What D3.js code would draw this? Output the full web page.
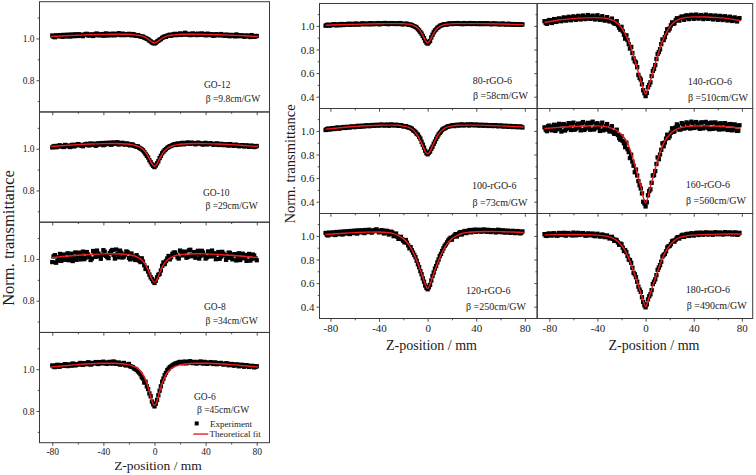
<!DOCTYPE html>
<html><head><meta charset="utf-8">
<script src="https://cdn.jsdelivr.net/npm/d3@7"></script>
<style>
body{margin:0;background:#fff}
svg{display:block}
text{font-family:"Liberation Serif","Times New Roman",serif;fill:#1a1a1a}
</style>
</head><body>
<svg id="c" width="756" height="475"></svg>
<script>
// ---------- sampling grids (Z-position, mm) ----------
const zLeftA = d3.range(-80, 81, 2);     // left column, even positions
const zLeftB = d3.range(-79, 80, 2);     // left column, odd positions
const zRightA = d3.range(-84, 79, 2);    // middle/right columns, even positions
const zRightB = d3.range(-83, 78, 2);    // middle/right columns, odd positions
const fitZLeft = [-81,-70,-60,-50,-40,-32,-26,-22,-18,-15,-12,-10,-8,-6,-4,-2,0,2,4,6,8,10,12,15,18,22,26,32,40,50,60,70,81];
const fitZRight = [-84,-72,-60,-50,-40,-34,-28,-24,-20,-16,-13,-10,-8,-6,-4,-2,0,2,4,6,8,10,13,16,20,24,28,34,40,50,60,70,79];

// ---------- tick values ----------
const xMajorTicks = [-80,-40,0,40,80];
const xMinorTicks = [-60,-20,20,60];
const yMajorLeft = [0.8,1.0];
const yMinorLeft = [0.7,0.9,1.1];
const yMajorRight = [0.4,0.6,0.8,1.0];
const yMinorRight = [0.5,0.7,0.9,1.1];

// ---------- panel names ----------
const sampleNames = ["GO-12","GO-10","GO-8","GO-6","80-rGO-6","100-rGO-6","120-rGO-6","140-rGO-6","160-rGO-6","180-rGO-6"];
const betaLabels = ["β =9.8cm/GW","β =29cm/GW","β =34cm/GW","β =45cm/GW","β =58cm/GW","β =73cm/GW","β =250cm/GW","β =510cm/GW","β =560cm/GW","β =490cm/GW"];

// ---------- experiment (normalized transmittance), even positions ----------
const go12 = [1.014,1.006,1.012,1.016,1.008,1.011,1.018,1.009,1.015,1.020,1.012,1.017,1.011,1.021,1.015,1.019,1.012,1.022,1.016,1.020,1.013,1.024,1.018,1.015,1.023,1.019,1.025,1.016,1.021,1.018,1.022,1.015,1.019,1.013,1.012,1.008,1.004,0.998,0.990,0.981,0.976,0.985,0.994,1.003,1.010,1.013,1.018,1.016,1.022,1.017,1.024,1.019,1.027,1.021,1.016,1.024,1.019,1.023,1.017,1.021,1.015,1.022,1.018,1.013,1.020,1.016,1.021,1.014,1.018,1.012,1.017,1.013,1.019,1.011,1.015,1.009,1.014,1.010,1.016,1.008,1.012];
const go10 = [1.006,1.013,1.009,1.016,1.010,1.018,1.012,1.008,1.019,1.014,1.022,1.016,1.012,1.021,1.017,1.025,1.019,1.014,1.026,1.020,1.017,1.028,1.022,1.019,1.030,1.024,1.020,1.027,1.021,1.025,1.018,1.021,1.014,1.010,1.005,0.997,0.984,0.966,0.945,0.925,0.912,0.930,0.955,0.978,0.993,1.004,1.012,1.017,1.022,1.025,1.020,1.028,1.024,1.030,1.023,1.027,1.021,1.029,1.025,1.020,1.028,1.022,1.026,1.019,1.024,1.018,1.023,1.017,1.021,1.015,1.020,1.014,1.019,1.012,1.017,1.011,1.016,1.009,1.015,1.008,1.013];
const go8 = [0.985,1.018,0.992,1.024,1.003,0.996,1.027,1.008,0.990,1.031,1.012,0.998,1.035,1.006,1.021,0.995,1.038,1.010,1.026,1.001,1.042,1.015,1.004,1.037,1.019,1.045,1.008,1.030,1.012,1.036,1.005,1.026,1.002,1.018,0.992,1.003,0.970,0.958,0.925,0.904,0.885,0.912,0.928,0.967,0.975,1.002,0.998,1.024,1.031,1.008,1.040,1.017,1.035,1.010,1.044,1.021,1.006,1.039,1.015,1.031,1.002,1.036,1.012,1.028,0.999,1.033,1.011,1.025,0.996,1.030,1.006,1.022,0.993,1.027,1.003,1.019,0.991,1.024,1.000,1.016,0.994];
const go6 = [1.018,1.010,1.021,1.013,1.016,1.024,1.015,1.020,1.027,1.018,1.023,1.030,1.021,1.026,1.033,1.022,1.029,1.034,1.025,1.031,1.036,1.027,1.033,1.029,1.037,1.026,1.032,1.024,1.030,1.018,1.025,1.012,1.004,0.997,0.984,0.962,0.936,0.918,0.884,0.845,0.822,0.853,0.897,0.940,0.972,0.995,1.010,1.018,1.026,1.030,1.035,1.028,1.036,1.031,1.038,1.029,1.035,1.030,1.037,1.027,1.033,1.028,1.034,1.025,1.031,1.026,1.030,1.022,1.028,1.019,1.025,1.017,1.023,1.014,1.021,1.012,1.019,1.011,1.016,1.009,1.014];
const rgo80 = [1.002,1.010,1.004,1.012,1.007,1.013,1.006,1.015,1.010,1.016,1.009,1.018,1.011,1.017,1.012,1.020,1.014,1.019,1.013,1.022,1.016,1.021,1.014,1.023,1.017,1.022,1.015,1.024,1.018,1.021,1.016,1.022,1.014,1.019,1.011,1.012,1.001,0.992,0.972,0.948,0.915,0.874,0.850,0.872,0.925,0.962,0.984,1.000,1.007,1.015,1.011,1.020,1.016,1.023,1.017,1.021,1.015,1.024,1.018,1.022,1.016,1.023,1.017,1.021,1.015,1.022,1.016,1.020,1.014,1.021,1.015,1.019,1.013,1.020,1.012,1.018,1.011,1.016,1.010,1.015,1.009,1.013];
const rgo100 = [1.008,1.020,1.014,1.024,1.018,1.029,1.022,1.031,1.025,1.035,1.029,1.038,1.032,1.041,1.035,1.044,1.038,1.047,1.040,1.049,1.043,1.052,1.045,1.054,1.046,1.053,1.044,1.055,1.047,1.052,1.043,1.049,1.038,1.041,1.030,1.024,1.006,0.990,0.968,0.935,0.884,0.832,0.802,0.825,0.866,0.910,0.951,0.983,1.010,1.022,1.034,1.038,1.046,1.041,1.052,1.045,1.055,1.047,1.053,1.046,1.056,1.048,1.054,1.045,1.052,1.044,1.051,1.042,1.049,1.041,1.048,1.039,1.046,1.037,1.044,1.035,1.042,1.033,1.040,1.031,1.037,1.029];
const rgo120 = [1.025,1.004,1.018,1.030,1.008,1.021,1.035,1.012,1.027,1.040,1.016,1.033,1.045,1.020,1.038,1.048,1.024,1.041,1.052,1.028,1.046,1.055,1.030,1.049,1.021,1.044,1.012,1.036,0.998,1.020,0.975,0.992,0.958,0.965,0.920,0.905,0.858,0.820,0.760,0.702,0.640,0.580,0.548,0.585,0.660,0.722,0.775,0.830,0.872,0.915,0.945,0.975,0.968,1.002,0.995,1.025,1.012,1.038,1.024,1.046,1.030,1.050,1.034,1.052,1.036,1.054,1.038,1.051,1.033,1.049,1.030,1.052,1.035,1.047,1.028,1.045,1.026,1.043,1.024,1.041,1.022,1.038];
const rgo140 = [1.040,1.018,1.050,1.025,1.058,1.036,1.064,1.040,1.072,1.045,1.077,1.048,1.081,1.052,1.085,1.055,1.088,1.058,1.092,1.060,1.087,1.055,1.090,1.052,1.082,1.045,1.074,1.038,1.062,1.022,1.040,0.985,0.992,0.925,0.920,0.845,0.822,0.725,0.690,0.585,0.545,0.455,0.405,0.480,0.522,0.618,0.668,0.762,0.802,0.885,0.905,0.972,0.978,1.030,1.022,1.065,1.045,1.080,1.052,1.090,1.058,1.094,1.060,1.096,1.062,1.092,1.058,1.095,1.060,1.090,1.055,1.088,1.052,1.085,1.050,1.082,1.046,1.078,1.042,1.072,1.038,1.066];
const rgo160 = [1.030,0.998,1.045,1.005,1.052,1.012,1.060,0.995,1.058,1.015,1.066,1.008,1.070,1.020,1.062,1.005,1.075,1.018,1.068,1.010,1.078,1.022,1.065,1.000,1.070,1.015,1.058,0.995,1.040,0.975,1.010,0.940,0.955,0.895,0.900,0.820,0.798,0.705,0.672,0.575,0.512,0.400,0.360,0.455,0.505,0.622,0.660,0.775,0.800,0.895,0.902,0.968,0.955,1.022,0.998,1.055,1.012,1.066,1.020,1.072,1.028,1.078,1.025,1.075,1.030,1.070,1.022,1.076,1.026,1.068,1.018,1.072,1.020,1.064,1.014,1.066,1.010,1.058,1.005,1.055,1.000,1.048];
const rgo180 = [1.015,1.000,1.020,1.004,1.022,1.002,1.025,1.008,1.026,1.003,1.024,1.010,1.028,1.005,1.026,1.012,1.024,1.002,1.021,1.006,1.020,0.998,1.018,0.995,1.012,0.990,1.004,0.978,0.992,0.958,0.962,0.925,0.928,0.872,0.862,0.800,0.772,0.688,0.650,0.570,0.525,0.440,0.395,0.462,0.505,0.592,0.632,0.712,0.752,0.825,0.848,0.902,0.915,0.955,0.952,0.985,0.978,1.005,0.992,1.015,1.000,1.022,1.003,1.025,1.008,1.028,1.010,1.030,1.012,1.028,1.010,1.031,1.014,1.029,1.012,1.032,1.015,1.030,1.012,1.029,1.010,1.026];

// ---------- experiment, odd positions ----------
const go12b = [1.008,1.015,1.010,1.013,1.017,1.010,1.014,1.019,1.011,1.016,
  1.020,1.013,1.018,1.022,1.014,1.019,1.016,1.023,1.015,1.021,
  1.017,1.014,1.022,1.018,1.015,1.021,1.017,1.023,1.016,1.020,
  1.017,1.021,1.014,1.016,1.010,1.009,1.002,0.996,0.986,0.978,
  0.980,0.989,0.997,1.006,1.008,1.015,1.013,1.020,1.016,1.021,
  1.017,1.023,1.018,1.022,1.017,1.021,1.016,1.020,1.024,1.018,
  1.022,1.016,1.020,1.014,1.019,1.015,1.018,1.013,1.017,1.011,
  1.015,1.010,1.016,1.012,1.014,1.009,1.013,1.007,1.011,1.010];
const go10b = [1.011,1.007,1.014,1.012,1.008,1.016,1.013,1.017,1.011,1.018,
  1.020,1.014,1.019,1.023,1.016,1.021,1.024,1.018,1.023,1.027,
  1.020,1.025,1.029,1.022,1.026,1.031,1.023,1.028,1.020,1.024,
  1.016,1.019,1.012,1.011,1.001,0.992,0.975,0.958,0.935,0.918,
  0.920,0.940,0.966,0.986,0.998,1.008,1.013,1.020,1.018,1.023,
  1.026,1.021,1.027,1.025,1.029,1.026,1.024,1.027,1.022,1.026,
  1.021,1.025,1.023,1.020,1.025,1.019,1.022,1.020,1.017,1.022,
  1.016,1.018,1.015,1.013,1.017,1.012,1.014,1.011,1.012,1.010];
const go8b = [1.012,0.982,1.008,0.991,1.021,1.000,0.994,1.025,1.004,0.996,
  1.030,1.015,0.999,1.033,1.010,1.002,1.028,1.040,1.013,1.020,
  1.035,1.009,1.028,1.043,1.002,1.024,1.040,1.007,1.021,1.032,
  0.998,1.012,0.995,1.007,0.985,0.988,0.952,0.940,0.912,0.893,
  0.896,0.924,0.945,0.983,0.990,1.014,1.008,1.030,1.020,1.002,
  1.035,1.028,1.006,1.041,1.013,1.033,1.025,1.002,1.039,1.019,
  1.008,1.031,1.040,1.014,1.026,1.001,1.034,1.017,1.006,1.029,
  0.998,1.023,1.011,0.995,1.025,1.004,1.018,0.992,1.021,1.003];
const go6b = [1.013,1.018,1.012,1.020,1.016,1.019,1.023,1.017,1.025,1.021,
  1.026,1.022,1.029,1.024,1.031,1.025,1.030,1.027,1.034,1.028,
  1.032,1.026,1.035,1.027,1.033,1.028,1.022,1.027,1.020,1.022,
  1.014,1.010,1.001,0.990,0.976,0.955,0.940,0.905,0.870,0.832,
  0.835,0.875,0.918,0.955,0.982,1.002,1.013,1.022,1.027,1.032,
  1.031,1.035,1.028,1.036,1.031,1.034,1.027,1.033,1.030,1.035,
  1.026,1.031,1.029,1.032,1.024,1.029,1.026,1.024,1.027,1.021,
  1.024,1.019,1.022,1.017,1.020,1.015,1.017,1.013,1.015,1.011];
const rgo80b = [1.008,1.003,1.009,1.014,1.005,1.011,1.016,1.008,1.013,1.018,
  1.012,1.015,1.020,1.013,1.017,1.021,1.016,1.018,1.023,1.015,
  1.019,1.024,1.016,1.020,1.025,1.017,1.021,1.023,1.016,1.020,
  1.024,1.015,1.017,1.018,1.009,1.006,0.997,0.985,0.962,0.935,
  0.896,0.858,0.862,0.902,0.945,0.970,0.990,1.004,1.012,1.013,
  1.019,1.021,1.017,1.020,1.024,1.018,1.021,1.016,1.020,1.024,
  1.018,1.020,1.016,1.023,1.019,1.017,1.022,1.018,1.016,1.020,
  1.017,1.014,1.018,1.015,1.013,1.017,1.013,1.011,1.015,1.012,
  1.010];
const rgo100b = [1.015,1.012,1.021,1.016,1.026,1.020,1.027,1.033,1.028,1.031,
  1.036,1.034,1.037,1.043,1.038,1.041,1.046,1.043,1.045,1.050,
  1.046,1.049,1.051,1.050,1.048,1.052,1.049,1.051,1.048,1.050,
  1.046,1.043,1.040,1.035,1.028,1.018,1.000,0.976,0.950,0.908,
  0.858,0.812,0.815,0.848,0.890,0.932,0.970,0.995,1.018,1.028,
  1.040,1.043,1.049,1.047,1.050,1.052,1.049,1.051,1.054,1.050,
  1.052,1.049,1.051,1.048,1.050,1.047,1.049,1.045,1.047,1.044,
  1.045,1.042,1.043,1.040,1.041,1.038,1.039,1.036,1.037,1.034,
  1.035];
const rgo120b = [1.010,1.028,1.012,1.022,1.033,1.015,1.028,1.038,1.020,1.030,
  1.042,1.024,1.036,1.047,1.030,1.040,1.050,1.033,1.044,1.038,
  1.051,1.040,1.035,1.045,1.028,1.040,1.020,1.028,1.005,0.995,
  0.985,0.972,0.945,0.942,0.895,0.878,0.838,0.790,0.735,0.675,
  0.612,0.560,0.565,0.622,0.690,0.745,0.800,0.848,0.895,0.928,
  0.962,0.985,0.992,1.015,1.010,1.032,1.025,1.042,1.035,1.050,
  1.040,1.053,1.042,1.050,1.040,1.052,1.036,1.048,1.040,1.046,
  1.034,1.049,1.031,1.044,1.033,1.040,1.029,1.038,1.027,1.036,
  1.025];
const rgo140b = [1.025,1.042,1.030,1.048,1.034,1.055,1.045,1.060,1.050,1.066,
  1.055,1.070,1.060,1.074,1.062,1.079,1.065,1.075,1.068,1.080,
  1.065,1.078,1.062,1.070,1.055,1.060,1.048,1.045,1.030,1.018,
  1.005,0.968,0.955,0.892,0.880,0.808,0.770,0.700,0.650,0.560,
  0.505,0.430,0.432,0.500,0.575,0.635,0.720,0.778,0.845,0.880,
  0.938,0.962,1.005,1.018,1.048,1.052,1.070,1.065,1.082,1.070,
  1.085,1.072,1.088,1.070,1.085,1.072,1.082,1.068,1.084,1.066,
  1.080,1.064,1.078,1.060,1.075,1.058,1.070,1.052,1.065,1.048,
  1.060];
const rgo160b = [1.010,1.040,1.015,1.035,1.000,1.048,1.020,1.055,1.003,1.045,
  1.025,1.062,1.010,1.050,1.030,1.065,1.008,1.055,1.028,1.068,
  1.012,1.058,1.030,1.048,1.005,1.040,1.010,1.025,0.990,0.985,
  0.965,0.925,0.915,0.862,0.845,0.770,0.740,0.650,0.622,0.540,
  0.470,0.385,0.395,0.490,0.560,0.625,0.720,0.760,0.840,0.870,
  0.935,0.940,0.985,0.992,1.030,1.040,1.012,1.055,1.025,1.062,
  1.020,1.068,1.030,1.060,1.018,1.072,1.032,1.062,1.015,1.070,
  1.025,1.058,1.012,1.062,1.020,1.052,1.008,1.055,1.012,1.045,
  1.002];
const rgo180b = [1.002,1.018,1.006,1.021,1.010,1.004,1.022,1.012,1.006,1.024,
  1.014,1.004,1.022,1.015,1.008,1.020,1.013,1.005,1.018,1.010,
  1.002,1.012,1.006,0.998,1.005,0.995,0.990,0.985,0.975,0.968,
  0.945,0.935,0.900,0.880,0.830,0.795,0.730,0.675,0.612,0.545,
  0.480,0.412,0.420,0.488,0.540,0.612,0.668,0.732,0.782,0.838,
  0.870,0.912,0.930,0.960,0.968,0.990,0.992,1.010,1.004,1.018,
  1.008,1.020,1.014,1.026,1.016,1.022,1.018,1.026,1.016,1.024,
  1.020,1.027,1.018,1.024,1.016,1.028,1.018,1.025,1.016,1.027,
  1.014];

// ---------- theoretical fits ----------
const go12Fit = [1.009,1.013,1.0155,1.018,1.0195,1.020,1.020,1.020,1.019,1.017,1.0145,1.012,1.007,1.001,0.992,0.983,0.978,0.983,0.992,1.001,1.007,1.012,1.0145,1.017,1.019,1.020,1.020,1.020,1.0195,1.018,1.0155,1.013,1.009];
const go10Fit = [1.0105,1.0156,1.0195,1.0224,1.0243,1.0248,1.0239,1.0225,1.0194,1.0153,1.0083,1.001,0.990,0.974,0.952,0.928,0.916,0.928,0.952,0.974,0.990,1.001,1.0083,1.0153,1.0194,1.0225,1.0239,1.0248,1.0243,1.0224,1.0195,1.0156,1.0105];
const go8Fit = [1.006,1.0126,1.0177,1.0215,1.0242,1.0247,1.0238,1.022,1.018,1.013,1.004,0.995,0.981,0.961,0.933,0.9026,0.888,0.9026,0.933,0.961,0.981,0.995,1.004,1.013,1.018,1.022,1.0238,1.0247,1.0242,1.0215,1.0177,1.0126,1.006];
const go6Fit = [1.0105,1.0167,1.022,1.0259,1.0282,1.0283,1.0262,1.0232,1.0173,1.0096,0.997,0.983,0.963,0.933,0.8925,0.848,0.827,0.848,0.8925,0.933,0.963,0.983,0.997,1.0096,1.0173,1.0232,1.0262,1.0283,1.0282,1.0259,1.022,1.0167,1.0105];
const rgo80Fit = [1.006,1.010,1.013,1.016,1.018,1.019,1.019,1.0195,1.018,1.015,1.009,0.996,0.980,0.955,0.919,0.879,0.856,0.879,0.919,0.955,0.980,0.996,1.009,1.015,1.018,1.0195,1.019,1.019,1.019,1.018,1.016,1.013,1.010];
const rgo100Fit = [1.015,1.027,1.037,1.0435,1.048,1.049,1.049,1.0475,1.0405,1.032,1.016,0.986,0.956,0.917,0.872,0.827,0.805,0.827,0.872,0.917,0.956,0.986,1.016,1.032,1.0405,1.0475,1.049,1.049,1.049,1.0465,1.043,1.038,1.033];
const rgo120Fit = [1.012,1.021,1.028,1.0325,1.0327,1.0293,1.0195,1.0034,0.977,0.932,0.883,0.816,0.766,0.709,0.651,0.592,0.555,0.592,0.651,0.709,0.766,0.816,0.883,0.932,0.977,1.0034,1.0205,1.0313,1.0357,1.0376,1.036,1.033,1.0295];
const rgo140Fit = [1.029,1.050,1.062,1.068,1.070,1.066,1.050,1.028,0.985,0.912,0.842,0.745,0.680,0.605,0.535,0.470,0.422,0.470,0.535,0.605,0.680,0.748,0.845,0.918,0.990,1.035,1.058,1.072,1.077,1.076,1.070,1.060,1.044];
const rgo160Fit = [1.020,1.030,1.038,1.042,1.043,1.038,1.022,1.005,0.970,0.915,0.845,0.750,0.680,0.600,0.530,0.440,0.390,0.440,0.530,0.600,0.680,0.750,0.845,0.915,0.970,1.005,1.024,1.036,1.042,1.043,1.040,1.033,1.024];
const rgo180Fit = [1.009,1.011,1.012,1.011,1.007,1.000,0.985,0.960,0.920,0.855,0.785,0.700,0.640,0.580,0.515,0.450,0.400,0.450,0.515,0.580,0.640,0.700,0.785,0.855,0.920,0.960,0.985,1.000,1.007,1.012,1.015,1.016,1.016];

// ---------- layout ----------
const svg = d3.select("#c");
const FRAME = "#3a3a3a", RED = "#ee1c1c";

const columns = {
  L: {x0:39.5, x1:269.5, dom:[-90,90], top:1.7, h:110.25, ydom:[0.648,1.176],
      major:yMajorLeft, minor:yMinorLeft, ylabels:true, tf:9.5, za:zLeftA, zb:zLeftB, fz:fitZLeft},
  M: {x0:319.5, x1:537, dom:[-89,90], top:3.5, h:105, ydom:[0.3,1.19],
      major:yMajorRight, minor:yMinorRight, ylabels:true, tf:11, za:zRightA, zb:zRightB, fz:fitZRight},
  R: {x0:537.3, x1:752.7, dom:[-90,89], top:3.5, h:105, ydom:[0.3,1.19],
      major:yMajorRight, minor:yMinorRight, ylabels:false, tf:11, za:zRightA, zb:zRightB, fz:fitZRight}
};

const panels = [
  {col:"L", row:0, a:go12, b:go12b, fit:go12Fit, lx:204, ly:83, bx:205.7, by:97},
  {col:"L", row:1, a:go10, b:go10b, fit:go10Fit, lx:203, ly:81, bx:205.5, by:94},
  {col:"L", row:2, a:go8,  b:go8b,  fit:go8Fit,  lx:204, ly:84, bx:205.5, by:98},
  {col:"L", row:3, a:go6,  b:go6b,  fit:go6Fit,  lx:194, ly:64.5, bx:197, by:77.5, last:true, legend:true},
  {col:"M", row:0, a:rgo80,  b:rgo80b,  fit:rgo80Fit,  lx:472.7, ly:76.5, bx:473, by:92.2},
  {col:"M", row:1, a:rgo100, b:rgo100b, fit:rgo100Fit, lx:472, ly:77.2, bx:472.5, by:93.5},
  {col:"M", row:2, a:rgo120, b:rgo120b, fit:rgo120Fit, lx:466, ly:76.5, bx:466, by:92.5, last:true},
  {col:"R", row:0, a:rgo140, b:rgo140b, fit:rgo140Fit, lx:687.7, ly:78.2, bx:688, by:93.8},
  {col:"R", row:1, a:rgo160, b:rgo160b, fit:rgo160Fit, lx:685.7, ly:75.8, bx:686, by:91.5},
  {col:"R", row:2, a:rgo180, b:rgo180b, fit:rgo180Fit, lx:685.7, ly:76.2, bx:686.7, by:91.5, last:true}
];

panels.forEach((p, i) => {
  const c = columns[p.col];
  const top = c.top + p.row * c.h, bot = top + c.h;
  const x = d3.scaleLinear().domain(c.dom).range([c.x0, c.x1]);
  const y = d3.scaleLinear().domain(c.ydom).range([bot, top]);
  const g = svg.append("g");

  // experiment squares
  const pts = p.a.map((v, k) => [c.za[k], v])
    .concat(p.b.map((v, k) => [c.zb[k], v]))
    .filter(d => d[0] !== undefined);
  const s = 4.3;
  g.selectAll("rect.pt").data(pts).join("rect")
    .attr("x", d => x(d[0]) - s/2).attr("y", d => y(d[1]) - s/2)
    .attr("width", s).attr("height", s).attr("fill", "#000");

  // theoretical fit
  const line = d3.line().x(d => x(d[0])).y(d => y(d[1])).curve(d3.curveMonotoneX);
  g.append("path").datum(d3.zip(c.fz, p.fit)).attr("d", line)
    .attr("fill", "none").attr("stroke", RED).attr("stroke-width", 1.4);

  // axes (ticks only; frame drawn separately)
  g.append("g").attr("transform", `translate(0,${bot})`)
    .call(d3.axisBottom(x).tickValues(xMajorTicks).tickSize(3.2).tickPadding(2)
      .tickFormat(p.last ? (d => String(d)) : ""));
  g.append("g").attr("transform", `translate(0,${bot})`)
    .call(d3.axisBottom(x).tickValues(xMinorTicks).tickSize(1.8).tickFormat(""));
  g.append("g").attr("transform", `translate(${c.x0},0)`)
    .call(d3.axisLeft(y).tickValues(c.major).tickSize(3).tickPadding(2)
      .tickFormat(c.ylabels ? d3.format(".1f") : ""));
  g.append("g").attr("transform", `translate(${c.x0},0)`)
    .call(d3.axisLeft(y).tickValues(c.minor).tickSize(1.8).tickFormat(""));
  g.selectAll(".domain").remove();
  g.selectAll(".tick line").attr("stroke", FRAME).attr("stroke-width", 0.9);
  g.selectAll(".tick text").attr("font-family", '"Liberation Serif","Times New Roman",serif')
    .attr("font-size", c.tf).attr("fill", "#1a1a1a");

  // frame
  g.append("rect").attr("x", c.x0).attr("y", top).attr("width", c.x1 - c.x0).attr("height", c.h)
    .attr("fill", "none").attr("stroke", FRAME).attr("stroke-width", 1);

  // annotations
  const af = p.col === "L" ? 9.5 : 10;
  g.append("text").attr("x", p.lx).attr("y", top + p.ly).attr("dy", "0.35em")
    .attr("font-size", af).text(sampleNames[i]);
  g.append("text").attr("x", p.bx).attr("y", top + p.by).attr("dy", "0.35em")
    .attr("font-size", af).text(betaLabels[i]);

  if (p.legend) {
    g.append("rect").attr("x", 196.7 - 2).attr("y", top + 91 - 2).attr("width", 4).attr("height", 4).attr("fill", "#000");
    g.append("text").attr("x", 210).attr("y", top + 91).attr("dy", "0.35em").attr("font-size", 9).text("Experiment");
    g.append("line").attr("x1", 193.3).attr("x2", 208.3).attr("y1", top + 101.6).attr("y2", top + 101.6)
      .attr("stroke", RED).attr("stroke-width", 1.4);
    g.append("text").attr("x", 209.5).attr("y", top + 101.6).attr("dy", "0.35em").attr("font-size", 9).text("Theoretical fit");
  }
});

// axis titles
svg.append("text").attr("transform", "translate(13.5,238) rotate(-90)").attr("text-anchor", "middle")
  .attr("font-size", 16.5).text("Norm. transmittance");
svg.append("text").attr("transform", "translate(294.5,164) rotate(-90)").attr("text-anchor", "middle")
  .attr("font-size", 14.5).text("Norm. transmittance");
svg.append("text").attr("x", 158).attr("y", 470).attr("text-anchor", "middle").attr("font-size", 13.5).text("Z-position / mm");
svg.append("text").attr("x", 431.5).attr("y", 349.5).attr("text-anchor", "middle").attr("font-size", 14).text("Z-position / mm");
svg.append("text").attr("x", 654).attr("y", 349.5).attr("text-anchor", "middle").attr("font-size", 14).text("Z-position / mm");
</script>
</body></html>
